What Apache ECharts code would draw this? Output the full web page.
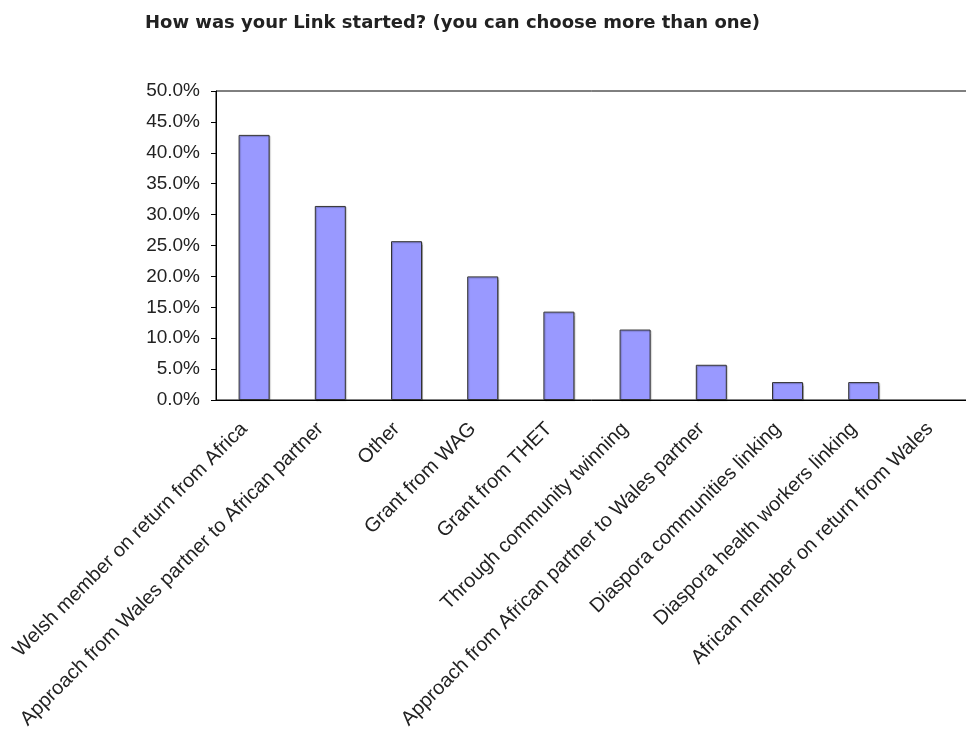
<!DOCTYPE html>
<html>
<head>
<meta charset="utf-8">
<script src="https://cdn.jsdelivr.net/npm/echarts@6/dist/echarts.min.js"></script>
<style>
html,body{margin:0;padding:0;background:#fff;}
#chart{width:966px;height:731px;}
</style>
</head>
<body>
<div id="chart"></div>
<script>
const titleText = 'How was your Link started? (you can choose more than one)';
const categories = [
  'Welsh member on return from Africa',
  'Approach from Wales partner to African partner',
  'Other',
  'Grant from WAG',
  'Grant from THET',
  'Through community twinning',
  'Approach from African partner to Wales partner',
  'Diaspora communities linking',
  'Diaspora health workers linking',
  'African member on return from Wales'
];
const values = [42.9, 31.4, 25.7, 20.0, 14.3, 11.4, 5.7, 2.9, 2.9, 0];
const yMin = 0, yMax = 50, yStep = 5;

const barData = values.map(v => v === 0 ? {value: v, itemStyle: {borderWidth: 0, shadowColor: 'transparent'}} : v);

const chart = echarts.init(document.getElementById('chart'), null, {renderer: 'canvas'});
chart.setOption({
  animation: false,
  backgroundColor: '#fff',
  title: {
    text: titleText,
    left: 140, top: 9,
    textStyle: {fontFamily: 'DejaVu Sans', fontWeight: 'bold', fontSize: 18, color: '#222'}
  },
  grid: {left: 216, top: 91, height: 309, width: 762, outerBoundsMode: 'none', containLabel: false, show: true, borderColor: '#000', borderWidth: 1, backgroundColor: 'transparent'},
  xAxis: {
    type: 'category',
    data: categories,
    axisLine: {lineStyle: {color: '#000', width: 1}},
    axisTick: {show: false},
    axisLabel: {interval: 0, rotate: 45, margin: 16, padding: [0, 14, 0, 0], fontFamily: 'Liberation Sans', fontSize: 20, color: '#222'}
  },
  yAxis: {
    type: 'value', min: yMin, max: yMax, interval: yStep,
    splitLine: {show: false},
    axisLine: {show: true, lineStyle: {color: '#000', width: 1}},
    axisTick: {show: true, inside: false, length: 5, lineStyle: {color: '#000'}},
    axisLabel: {margin: 16, fontFamily: 'Liberation Sans', fontSize: 19, color: '#222', formatter: v => v.toFixed(1) + '%'}
  },
  series: [{
    type: 'bar',
    data: barData,
    barWidth: 31,
    itemStyle: {color: '#9999ff', borderColor: '#333', borderWidth: 1, shadowColor: 'rgba(0,0,0,0.25)', shadowOffsetX: 1, shadowOffsetY: 1, shadowBlur: 1}
  }]
});
</script>
</body>
</html>
